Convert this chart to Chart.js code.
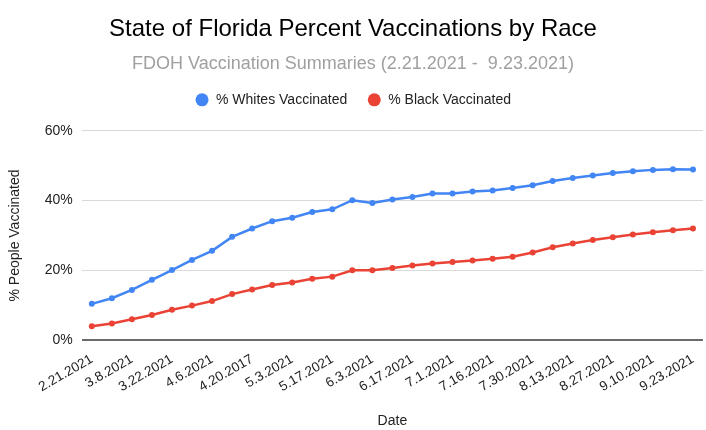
<!DOCTYPE html>
<html>
<head>
<meta charset="utf-8">
<script src="https://cdn.jsdelivr.net/npm/chart.js@4/dist/chart.umd.min.js"></script>
<style>
  html, body { margin: 0; padding: 0; background: #fff; }
  #wrap { width: 706px; height: 430px; }
</style>
</head>
<body>
<div id="wrap"><canvas id="c"></canvas></div>
<script>
// one row per weekly summary; every other date is labelled on the axis
const dates = [
  "2.21.2021", "3.1.2021", "3.8.2021", "3.15.2021", "3.22.2021", "3.29.2021",
  "4.6.2021", "4.13.2021", "4.20.2017", "4.26.2021", "5.3.2021", "5.10.2021",
  "5.17.2021", "5.24.2021", "6.3.2021", "6.10.2021", "6.17.2021", "6.24.2021",
  "7.1.2021", "7.8.2021", "7.16.2021", "7.23.2021", "7.30.2021", "8.6.2021",
  "8.13.2021", "8.20.2021", "8.27.2021", "9.3.2021", "9.10.2021", "9.17.2021",
  "9.23.2021"
];
const whitesPct = [
  10.4, 12.0, 14.4, 17.3, 20.1, 23.0, 25.6, 29.6, 32.0, 34.1, 35.1, 36.7,
  37.5, 40.1, 39.3, 40.3, 41.0, 42.0, 42.0, 42.6, 42.9, 43.6, 44.4, 45.6,
  46.5, 47.2, 47.9, 48.4, 48.8, 49.0, 48.9
];
const blackPct = [
  4.0, 4.8, 6.0, 7.2, 8.7, 9.9, 11.2, 13.2, 14.5, 15.8, 16.5, 17.6,
  18.2, 20.0, 20.0, 20.7, 21.4, 22.0, 22.4, 22.8, 23.3, 23.9, 25.1, 26.6,
  27.7, 28.7, 29.5, 30.3, 30.9, 31.5, 32.0
];
const yTicks = [0, 20, 40, 60];

const FONT = "'Liberation Sans', Arial, sans-serif";
const BLUE = "#4285F4";
const RED = "#EA4335";

function series(label, data, color) {
  return {
    label, data,
    borderColor: color,
    backgroundColor: color,
    borderWidth: 2.5,
    pointRadius: 3,
    pointBorderWidth: 0,
    pointHoverRadius: 3,
    pointStyle: "circle",
    tension: 0
  };
}

// push the plot down a bit below the legend
const legendGap = {
  id: "legendGap",
  beforeInit(chart) {
    const fit = chart.legend.fit;
    chart.legend.fit = function () {
      fit.call(this);
      this.height += 14;
    };
  }
};

new Chart(document.getElementById("c"), {
  type: "line",
  data: {
    labels: dates,
    datasets: [
      series("% Whites Vaccinated", whitesPct, BLUE),
      series("% Black Vaccinated", blackPct, RED)
    ]
  },
  plugins: [legendGap],
  options: {
    responsive: true,
    maintainAspectRatio: false,
    animation: false,
    layout: { padding: { left: 0, right: 0, top: 0, bottom: 0 } },
    plugins: {
      title: {
        display: true,
        text: "State of Florida Percent Vaccinations by Race",
        color: "#000",
        font: { family: FONT, size: 24, weight: "normal" },
        padding: { top: 15, bottom: 11 }
      },
      subtitle: {
        display: true,
        text: "FDOH Vaccination Summaries (2.21.2021 -  9.23.2021)",
        color: "#a0a0a0",
        font: { family: FONT, size: 18, lineHeight: 1 },
        padding: { top: 0, bottom: 0 }
      },
      legend: {
        position: "top",
        labels: {
          usePointStyle: true,
          pointStyle: "circle",
          boxWidth: 14,
          boxHeight: 9.2,
          padding: 20,
          color: "#222",
          font: { family: FONT, size: 14 }
        }
      },
      tooltip: { enabled: false }
    },
    scales: {
      x: {
        offset: true,
        grid: { display: false },
        border: { display: false },
        // let the plot run to the right edge; the last label may clip slightly
        afterFit: (scale) => {
          const extra = scale.paddingRight || 0;
          scale.paddingRight = 0;
          if (scale._margins) scale._margins.right = 0;
          scale.width += extra;
          scale._length = scale.width;
        },
        title: {
          display: true,
          text: "Date",
          color: "#222",
          font: { family: FONT, size: 14 },
          padding: { top: 15, bottom: 0 }
        },
        ticks: {
          autoSkip: false,
          minRotation: 30,
          maxRotation: 30,
          color: "#222",
          font: { family: FONT, size: 13.5 },
          callback: function (v, i) { return i % 2 === 0 ? this.getLabelForValue(v) : ""; }
        }
      },
      y: {
        min: 0,
        max: 60,
        afterBuildTicks: (axis) => { axis.ticks = yTicks.map(v => ({ value: v })); },
        border: { display: false },
        grid: {
          drawTicks: false,
          color: (ctx) => ctx.tick && ctx.tick.value === 0 ? "#6b6b6b" : "#d9d9d9",
          lineWidth: (ctx) => ctx.tick && ctx.tick.value === 0 ? 2 : 1
        },
        title: {
          display: true,
          text: "% People Vaccinated",
          color: "#222",
          font: { family: FONT, size: 14 },
          padding: { top: 7, bottom: 12 }
        },
        ticks: {
          padding: 9,
          color: "#222",
          font: { family: FONT, size: 14 },
          callback: (v) => v + "%"
        }
      }
    }
  }
});
</script>
</body>
</html>
